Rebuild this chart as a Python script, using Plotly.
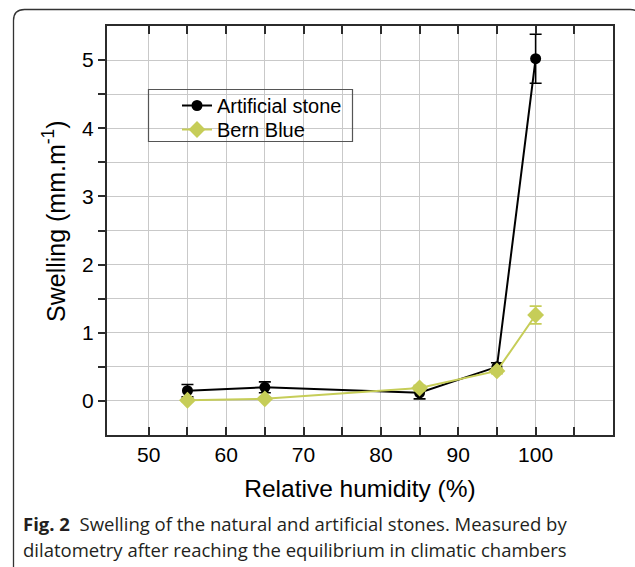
import plotly.graph_objects as go

# Relative humidity steps (%)
rh = [55, 65, 85, 95, 100]

# Swelling (mm/m) with standard deviations
artificial = [0.15, 0.20, 0.12, 0.50, 5.02]
artificial_err = [0.09, 0.08, 0.09, 0.06, 0.36]
bern_blue = [0.01, 0.03, 0.19, 0.44, 1.26]
bern_blue_err = [0.02, 0.02, 0.04, 0.04, 0.13]

x_ticks = [50, 55, 60, 65, 70, 75, 80, 85, 90, 95, 100, 105]
x_labels = ["50", " ", "60", " ", "70", " ", "80", " ", "90", " ", "100", " "]
y_ticks = [0, 0.5, 1, 1.5, 2, 2.5, 3, 3.5, 4, 4.5, 5]
y_labels = ["0", " ", "1", " ", "2", " ", "3", " ", "4", " ", "5"]

W, H = 635, 567
L, R, T, B = 107, 22, 26, 132
PW, PH = W - L - R, H - T - B

FONT = "Liberation Sans, Arial, sans-serif"
GREEN = "#c6cd58"
AXIS = "#2b2b2b"
GRID = "#c9c9c9"


def px(x):
    return (x - L) / PW


def py(y):
    return (H - B - y) / PH


fig = go.Figure()

fig.add_trace(go.Scatter(
    x=rh, y=artificial, name="Artificial stone", mode="lines+markers",
    line=dict(color="black", width=2),
    marker=dict(symbol="circle", size=11, color="black"),
    error_y=dict(type="data", array=artificial_err, color="black",
                 thickness=1.6, width=6),
    legend="legend",
))
fig.add_trace(go.Scatter(
    x=rh, y=bern_blue, name="Bern Blue", mode="lines+markers",
    line=dict(color=GREEN, width=2),
    marker=dict(symbol="diamond", size=13, color=GREEN),
    error_y=dict(type="data", array=bern_blue_err, color=GREEN,
                 thickness=1.6, width=6),
    legend="legend2",
))

legend_style = dict(
    xanchor="left", yanchor="top",
    bgcolor="rgba(0,0,0,0)", borderwidth=0,
    font=dict(size=20, family=FONT, color="black"),
    itemwidth=30,
)

fig.update_layout(
    width=W, height=H,
    margin=dict(l=L, r=R, t=T, b=B),
    paper_bgcolor="white", plot_bgcolor="white",
    font=dict(family=FONT, color="black"),
    showlegend=True,
    legend=dict(x=px(177), y=py(86), **legend_style),
    legend2=dict(x=px(177), y=py(110), **legend_style),
    xaxis=dict(
        range=[44.6, 110], tickmode="array", tickvals=x_ticks, ticktext=x_labels,
        showgrid=True, gridcolor=GRID, gridwidth=1,
        showline=True, linecolor=AXIS, linewidth=2, mirror="ticks",
        ticks="inside", ticklen=8, tickwidth=1.5, tickcolor=AXIS,
        tickfont=dict(size=21, family=FONT),
        title=dict(text="Relative humidity (%)", font=dict(size=24.5, family=FONT),
                   standoff=15),
        zeroline=False,
    ),
    yaxis=dict(
        range=[-0.5, 5.5], tickmode="array", tickvals=y_ticks, ticktext=y_labels,
        showgrid=True, gridcolor=GRID, gridwidth=1,
        showline=True, linecolor=AXIS, linewidth=2, mirror=True,
        ticks="outside", ticklen=7, tickwidth=1.5, tickcolor=AXIS,
        tickfont=dict(size=21, family=FONT),
        zeroline=False,
    ),
    # right-hand frame with inward ticks
    yaxis2=dict(
        overlaying="y", side="right", matches="y", range=[-0.5, 5.5],
        tickmode="array", tickvals=y_ticks, showticklabels=False,
        ticks="inside", ticklen=7, tickwidth=1.5, tickcolor=AXIS,
        showgrid=False, showline=False, zeroline=False,
    ),
)

# y-axis title, placed beside the tick labels
fig.add_annotation(
    xref="paper", yref="paper", x=px(54), y=py(221), xanchor="center", yanchor="middle",
    text="Swelling (mm.m<sup>-1</sup>)", textangle=-90, showarrow=False,
    font=dict(size=25, family=FONT, color="black"),
)

# legend frame
fig.add_shape(type="rect", xref="paper", yref="paper",
              x0=px(148.5), x1=px(352.5), y0=py(141.5), y1=py(89.5),
              line=dict(color="#555555", width=1.2), fillcolor="rgba(0,0,0,0)")

# rounded outer frame of the figure panel
x0, y0, x1, y1, r = 13.5, 9.5, 641, 590, 11
path = (f"M {px(x0)},{py(y1)} L {px(x0)},{py(y0 + r)} "
        f"Q {px(x0)},{py(y0)} {px(x0 + r)},{py(y0)} "
        f"L {px(x1 - r)},{py(y0)} Q {px(x1)},{py(y0)} {px(x1)},{py(y0 + r)} "
        f"L {px(x1)},{py(y1)}")
fig.add_shape(type="path", xref="paper", yref="paper", path=path,
              line=dict(color="#333333", width=1.3))

CAP_FONT = dict(family="Open Sans, Noto Sans, sans-serif", size=18.5, color="#231f20")
fig.add_annotation(
    xref="paper", yref="paper", x=px(21), y=py(523), xanchor="left", yanchor="middle",
    text="<b>Fig. 2</b>  Swelling of the natural and artificial stones. Measured by",
    showarrow=False, font=CAP_FONT, align="left",
)
fig.add_annotation(
    xref="paper", yref="paper", x=px(21), y=py(549), xanchor="left", yanchor="middle",
    text="dilatometry after reaching the equilibrium in climatic chambers",
    showarrow=False, font=CAP_FONT, align="left",
)

fig.write_html("out.html")
